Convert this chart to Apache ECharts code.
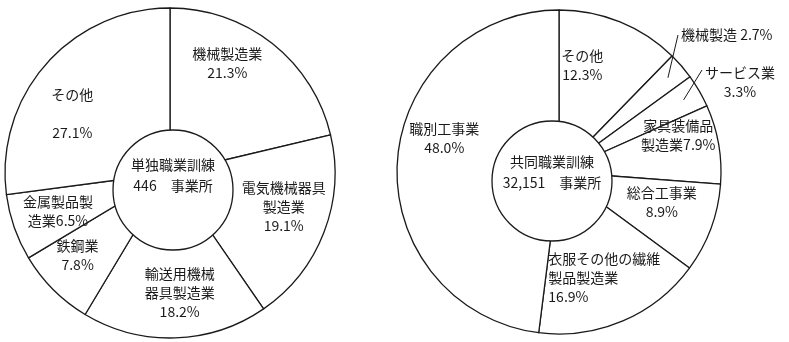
<!DOCTYPE html>
<html><head><meta charset="utf-8">
<script src="https://cdn.jsdelivr.net/npm/echarts@6/dist/echarts.min.js"></script>
<style>html,body{margin:0;padding:0;background:#fff}#c{width:789px;height:342px}</style>
</head><body><div id="c"></div>
<script>
// Left chart: 単独職業訓練 446 事業所
const leftCategories = ['機械製造業', '電気機械器具\n製造業', '輸送用機械\n器具製造業', '鉄鋼業', '金属製品製\n造業', 'その他'];
const leftValues = [21.3, 19.1, 18.2, 7.8, 6.5, 27.1];
const leftSep = ['\n', '\n', '\n', '\n', '', '\n\n'];
// Right chart: 共同職業訓練 32,151 事業所
const rightCategories = ['その他', '機械製造', 'サービス業', '家具装備品\n製造業', '総合工事業', '衣服その他の繊維\n製品製造業', '職別工事業'];
const rightValues = [12.3, 2.7, 3.3, 7.9, 8.9, 16.9, 48.0];
const rightSep = ['\n', ' ', '\n', '', '\n', '\n', '\n'];
const rightOutside = [false, true, true, false, false, false, false];
const centerTitles = ['単独職業訓練', '共同職業訓練'];
const centerCounts = ['446', '32,151'];

const FONT = '"Noto Sans CJK JP", "Noto Sans", sans-serif';
const INK = '#1a1a1a';

// label nudges (layout only)
const leftNudge = [[-15, -18], [5, -8], [6, 3], [-10, 0], [-2, 0], [-10, 17]];
const rightNudge = [[-20, 0], null, null, [6, -17], [-5, -10], [-56, 0, 'left'], [0, -27]];
const rightPinned = { 1: [681, 35, 'left'], 2: [740, 82, 'center'] };

function sliceSeries(center, radius, cats, vals) {
  return {
    type: 'pie', center, radius: [0, radius], startAngle: 90, clockwise: true,
    silent: true, animation: false, label: { show: false }, labelLine: { show: false },
    itemStyle: { color: '#fff', borderColor: INK, borderWidth: 1.3 },
    data: vals.map((v, i) => ({ value: v, name: cats[i] }))
  };
}
function labelSeries(center, radius, cats, vals, seps, outside, nudge, pinned) {
  return {
    type: 'pie', center, radius, startAngle: 90, clockwise: true, avoidLabelOverlap: false,
    silent: true, animation: false, z: 5,
    itemStyle: { color: 'rgba(0,0,0,0)', borderWidth: 0 },
    label: {
      show: true, position: 'inside', color: INK, fontFamily: FONT, fontSize: 14, lineHeight: 19,
      formatter: p => cats[p.dataIndex] + seps[p.dataIndex] + vals[p.dataIndex].toFixed(1) + '%'
    },
    labelLine: { show: false },
    labelLayout: function (params) {
      const i = params.dataIndex;
      if (pinned && pinned[i]) {
        const pp = pinned[i];
        const p0 = params.labelLinePoints ? params.labelLinePoints[0] : null;
        const out = { x: pp[0], y: pp[1], align: pp[2], verticalAlign: 'middle', hideOverlap: false, moveOverlap: false };
        if (p0) {
          const ux = p0[0] - center[0], uy = p0[1] - center[1];
          const len = Math.sqrt(ux * ux + uy * uy);
          const inner = [p0[0] - ux / len * 18, p0[1] - uy / len * 18];
          const lw = params.labelRect.width;
          const start = pp[2] === 'left' ? [pp[0] - 3, pp[1]] : [pp[0] - lw / 2 - 3, pp[1] - 12];
          out.labelLinePoints = [inner, [(inner[0] + start[0]) / 2, (inner[1] + start[1]) / 2], start];
        }
        return out;
      }
      const n = nudge[i];
      if (!n) return {};
      const o = { dx: n[0], dy: n[1] };
      if (n[2]) o.align = n[2];
      return o;
    },
    data: vals.map((v, i) => {
      const d = { value: v, name: cats[i] };
      if (outside && outside[i]) {
        d.label = { position: 'outside' };
        d.labelLine = { show: true, length: 12, length2: 8, lineStyle: { color: INK, width: 1 } };
      }
      return d;
    })
  };
}
function hubSeries(center, r, idx, dy) {
  return {
    type: 'pie', center, radius: [0, r], silent: true, animation: false, z: 3,
    itemStyle: { color: '#fff', borderColor: INK, borderWidth: 1.3 },
    label: {
      show: true, position: 'center', color: INK, fontFamily: FONT, fontSize: 14, lineHeight: 21,
      formatter: () => centerTitles[idx] + '\n' + centerCounts[idx] + '　事業所'
    },
    labelLayout: () => ({ dy }),
    labelLine: { show: false },
    data: [{ value: 1, name: centerTitles[idx] }]
  };
}

const chart = echarts.init(document.getElementById('c'), null, { renderer: 'canvas' });
chart.setOption({
  backgroundColor: '#fff',
  animation: false,
  series: [
    sliceSeries([170, 173], 165, leftCategories, leftValues),
    hubSeries([173, 190], 60, 0, -15),
    labelSeries([170, 173], [62, 165], leftCategories, leftValues, leftSep, null, leftNudge, null),
    sliceSeries([559, 172], 162, rightCategories, rightValues),
    hubSeries([552, 181], 60, 1, -9),
    labelSeries([559, 172], [62, 162], rightCategories, rightValues, rightSep, rightOutside, rightNudge, rightPinned)
  ]
});
</script></body></html>
